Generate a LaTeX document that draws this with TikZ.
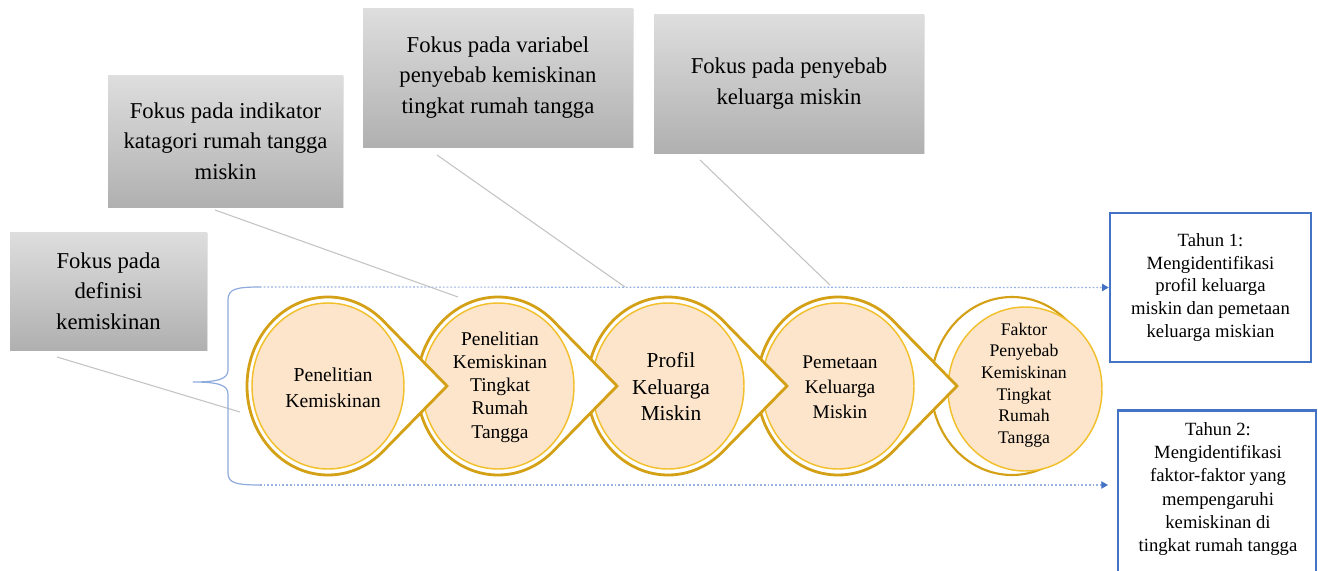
\documentclass[tikz,border=0pt]{standalone}
\usepackage{fontspec}
\setmainfont{Liberation Serif}
\usetikzlibrary{calc,arrows.meta,shadows}

\definecolor{ringgold}{RGB}{212,160,22}
\definecolor{ringlight}{RGB}{242,192,45}
\definecolor{peach}{RGB}{252,229,203}
\definecolor{boxblue}{RGB}{68,114,196}
\definecolor{dotblue}{RGB}{150,176,226}
\definecolor{braceblue}{RGB}{143,170,220}
\definecolor{greytop}{RGB}{222,222,222}
\definecolor{greybot}{RGB}{176,176,176}
\definecolor{pointergrey}{RGB}{195,195,195}

\tikzset{
  focusbox/.style={top color=greytop, bottom color=greybot, align=center, inner sep=0pt,
    font=\fontsize{17}{23}\selectfont, drop shadow={shadow xshift=1pt, shadow yshift=-1pt, opacity=0.2}},
  yearbox/.style={draw=boxblue, line width=1.9pt, fill=white, inner sep=0pt},
  yeartext/.style={align=center, inner sep=0pt, font=\fontsize{14}{17}\selectfont},
  steptext/.style={align=center, inner sep=0pt},
  ringouter/.style={draw=ringgold, line width=2.1pt, fill=white},
  ringinner/.style={draw=ringlight, line width=1.1pt, fill=peach},
  pointer/.style={draw=pointergrey, line width=0.8pt},
  bracestyle/.style={draw=braceblue, line width=0.9pt},
  dotline/.style={draw=dotblue, line width=0.9pt, dash pattern=on 1.3pt off 1.5pt, -{Triangle[length=5pt,width=5.5pt,color=boxblue]}},
}

% one step of the flow: ellipse centre x, point to the right
\def\flowstep#1{%
  \draw[ringouter] (#1+119,386) -- ($(#1,386)+(47:81 and 89)$) arc[start angle=47, end angle=313, x radius=81, y radius=89] -- cycle;
  \draw[ringinner] (#1,386) ellipse[x radius=76, y radius=83];
}

\begin{document}
\begin{tikzpicture}[x=0.75pt, y=-0.75pt]
			%%%%% START %%%%%
			\useasboundingbox (0,0) rectangle (1318,571);
			
			% grey focus boxes
			\node[focusbox, minimum width=147.75pt, minimum height=88.5pt] (fdef) at (108.5,291) {Fokus pada\\definisi\\kemiskinan};
			\node[focusbox, minimum width=176.25pt, minimum height=99pt] (find) at (225.5,141) {Fokus pada indikator\\katagori rumah tangga\\miskin};
			\node[focusbox, minimum width=202.5pt, minimum height=104.25pt] (fvar) at (498,77.5) {Fokus pada variabel\\penyebab kemiskinan\\tingkat rumah tangga};
			\node[focusbox, minimum width=202.5pt, minimum height=104.25pt] (fsebab) at (789,83.5) {Fokus pada penyebab\\keluarga miskin};
			
			% pointer lines
			\coordinate (pa1) at (57,357);  \coordinate (pb1) at (240,412);
			\coordinate (pa2) at (215,210); \coordinate (pb2) at (458,297);
			\coordinate (pa3) at (437,155); \coordinate (pb3) at (625,287);
			\coordinate (pa4) at (700,160); \coordinate (pb4) at (830,285);
			\draw[pointer] (pa1) -- (pb1);
			\draw[pointer] (pa2) -- (pb2);
			\draw[pointer] (pa3) -- (pb3);
			\draw[pointer] (pa4) -- (pb4);
			
			% year boxes
			\node[yearbox, yeartext, minimum width=150.75pt, minimum height=111.75pt] (tahun1) at (1210.5,287.5) {Tahun 1:\\Mengidentifikasi\\profil keluarga\\miskin dan pemetaan\\keluarga miskian};
			\node[yearbox, minimum width=148.5pt, minimum height=150pt, anchor=north] (tahun2) at (1217,409) {};
			\node[yeartext, font=\fontsize{14}{17.5}\selectfont] (tahun2txt) at (1218,489) {Tahun 2:\\Mengidentifikasi\\faktor-faktor yang\\mempengaruhi\\kemiskinan di\\tingkat rumah tangga};
			
			% brace and dotted arrows
			\coordinate (brtop) at (260,287);
			\coordinate (brtip) at (193,382);
			\coordinate (brbot) at (260,485);
			\coordinate (arrtwo) at (1108,485);
			\draw[bracestyle] (brtop) .. controls (236,287) and (228,289) .. (228,300) -- (228,370)
			  .. controls (228,379) and (218,382) .. (brtip) .. controls (218,382) and (228,385) .. (228,394)
			  -- (228,473) .. controls (228,483) and (236,485) .. (brbot);
			\draw[dotline] (brtop) -- (tahun1.west);
			\draw[dotline] (brbot) -- (arrtwo);
			
			% flow steps, last one first
			\draw[ringouter, line width=1.6pt] (1012,386) ellipse[x radius=81, y radius=89];
			\draw[ringinner] (1025,389) ellipse[x radius=77, y radius=82];
			\flowstep{838}
			\flowstep{668}
			\flowstep{498}
			\flowstep{328}
			
			\node[steptext, font=\fontsize{14.8}{19.5}\selectfont] (s1) at (333,388) {Penelitian\\Kemiskinan};
			\node[steptext, font=\fontsize{14.6}{17.4}\selectfont] (s2) at (500,387) {Penelitian\\Kemiskinan\\Tingkat\\Rumah\\Tangga};
			\node[steptext, font=\fontsize{16}{19.9}\selectfont] (s3) at (671,387) {Profil\\Keluarga\\Miskin};
			\node[steptext, font=\fontsize{14.5}{18.75}\selectfont] (s4) at (840,387) {Pemetaan\\Keluarga\\Miskin};
			\node[steptext, font=\fontsize{13.3}{16.2}\selectfont] (s5) at (1024,385) {Faktor\\Penyebab\\Kemiskinan\\Tingkat\\Rumah\\Tangga};
			
			%%%%% END %%%%%
\end{tikzpicture}
\end{document}
